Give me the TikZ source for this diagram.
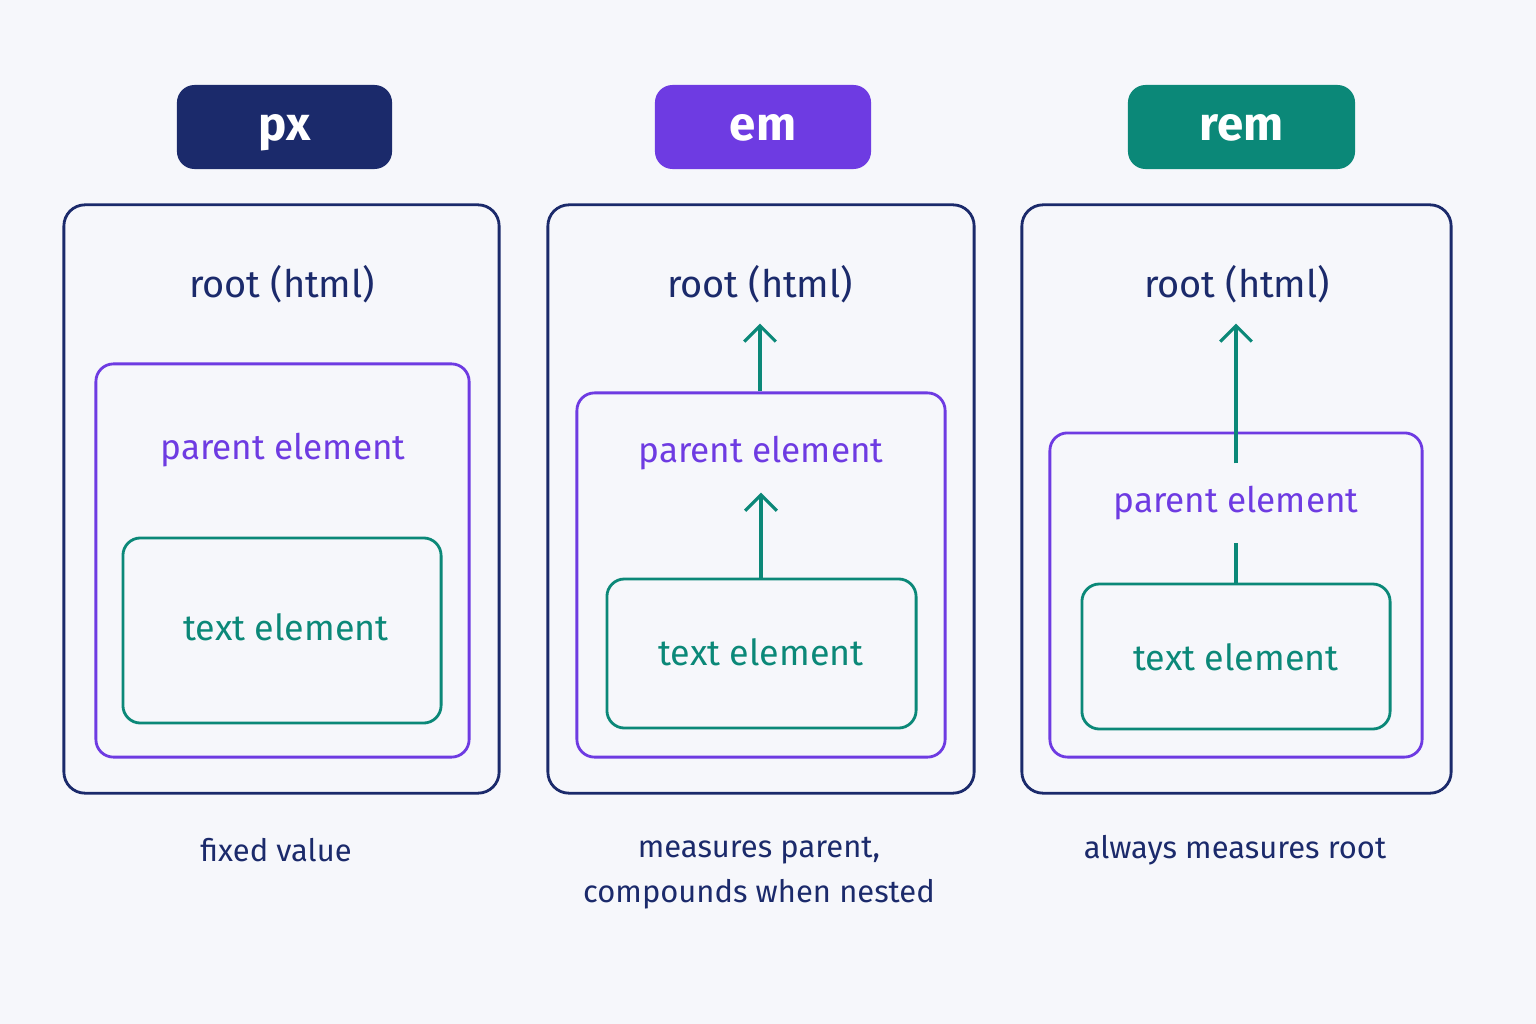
\documentclass[tikz,border=0pt]{standalone}
\usepackage{fontspec}
\setmainfont{Fira Sans}
\usepackage{xcolor}
\usepackage{tikz}
\usetikzlibrary{arrows.meta,positioning,calc}

\definecolor{bgpage}{HTML}{F6F7FB}
\definecolor{navyc}{HTML}{1B2A6B}
\definecolor{purplec}{HTML}{6E3BE2}
\definecolor{tealc}{HTML}{0B8878}

\begin{document}
\begin{tikzpicture}[
    x=0.01cm, y=-0.01cm,
    header/.style={rectangle, rounded corners=5pt, minimum height=0.84cm, text=white, font=\fontsize{13.5}{16}\selectfont\bfseries, text height=1.5ex, text depth=0pt, inner sep=0pt},
    outerbox/.style={rectangle, draw=navyc, line width=0.8pt, rounded corners=6pt, minimum height=5.88cm, inner sep=0pt},
    parentbox/.style={rectangle, draw=purplec, line width=0.8pt, rounded corners=5pt, inner sep=0pt},
    textbox/.style={rectangle, draw=tealc, line width=0.8pt, rounded corners=5pt, inner sep=0pt},
    rootlabel/.style={text=navyc, font=\fontsize{10.8}{13}\selectfont, inner sep=0.2cm},
    parentlabel/.style={text=purplec, font=\fontsize{10}{12}\selectfont, inner sep=0.22cm},
    textlabel/.style={text=tealc, font=\fontsize{10.2}{12}\selectfont},
    caption/.style={text=navyc, font=\fontsize{8.8}{12.6}\selectfont, align=center},
    measure/.style={draw=tealc, line width=0.9pt},
    measurearrow/.style={measure, -{Straight Barb[length=4.5pt, width=9pt, line width=0.9pt]}}
]
    % page
    \fill[bgpage] (0,0) rectangle (1536,1024);

    % Headers
    \node[header, fill=navyc, minimum width=2.15cm] (hpx) at (284.5,127) {px};
    \node[header, fill=purplec, minimum width=2.16cm] (hem) at (763,127) {em};
    \node[header, fill=tealc, minimum width=2.27cm] (hrem) at (1241.5,127) {rem};

    % Column 1 - px
    \node[outerbox, minimum width=4.35cm] (outpx) at (281.5,499) {};
    \node[parentbox, minimum width=3.73cm, minimum height=3.93cm] (parpx) at (282.5,560.5) {};
    \node[textbox, minimum width=3.18cm, minimum height=1.85cm] (txtpx) at (282,630.5) {};
    \node[rootlabel] (rootpx) at (282,284) {root (html)};
    \node[parentlabel] (plabpx) at (283,450) {parent element};
    \node[textlabel] (tlabpx) at (286,627) {text element};
    \node[caption] (cappx) at (276,850) {fixed value};

    % Column 2 - em
    \node[outerbox, minimum width=4.26cm] (outem) at (761,499) {};
    \node[parentbox, minimum width=3.68cm, minimum height=3.64cm] (parem) at (761,575) {};
    \node[textbox, minimum width=3.09cm, minimum height=1.49cm] (txtem) at (761.5,653.5) {};
    \node[rootlabel] (rootem) at (760,284) {root (html)};
    \node[parentlabel] (plabem) at (761,453) {parent element};
    \node[textlabel] (tlabem) at (761,652) {text element};
    \node[caption] (capem) at (759,873) {measures parent,\\compounds when nested};
    \draw[measurearrow] (txtem.north -| plabem) -- (plabem.south);
    \draw[measurearrow] (parem.north -| rootem) -- (rootem.south);

    % Column 3 - rem
    \node[outerbox, minimum width=4.29cm] (outrem) at (1236.5,499) {};
    \node[parentbox, minimum width=3.72cm, minimum height=3.24cm] (parrem) at (1236,595) {};
    \node[textbox, minimum width=3.08cm, minimum height=1.45cm] (txtrem) at (1236,656.5) {};
    \node[rootlabel] (rootrem) at (1237,284) {root (html)};
    \node[parentlabel] (plabrem) at (1236,503) {parent element};
    \node[textlabel] (tlabrem) at (1236,657) {text element};
    \node[caption] (caprem) at (1235,850) {always measures root};
    \draw[measure] (txtrem.north -| plabrem) -- (plabrem.south);
    \draw[measurearrow] (plabrem.north) -- (plabrem.north |- rootrem.south);

    \useasboundingbox (0,0) rectangle (1536,1024);
\end{tikzpicture}
\end{document}
